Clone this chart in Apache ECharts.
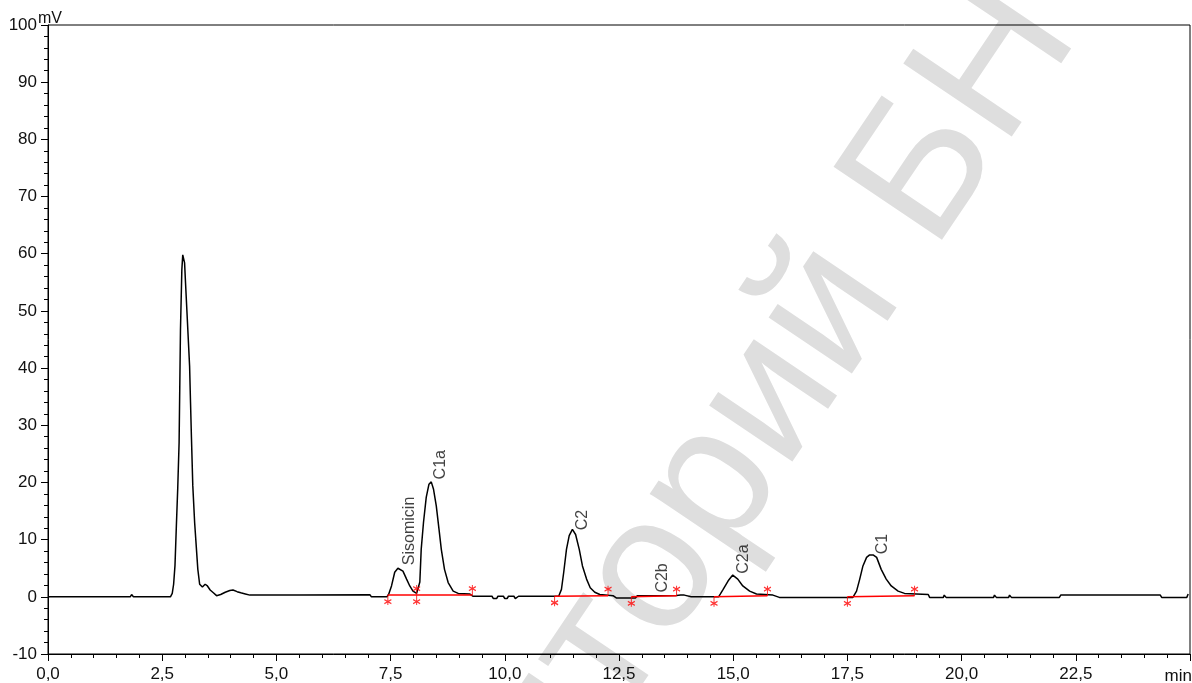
<!DOCTYPE html>
<html>
<head>
<meta charset="utf-8">
<script src="https://cdn.jsdelivr.net/npm/echarts@6/dist/echarts.min.js"></script>
<style>
html,body{margin:0;padding:0;background:#fff;}
#chart{width:1192px;height:683px;}
</style>
</head>
<body>
<div id="chart"></div>
<script>
// ---- data ----
const xTicks = [0, 2.5, 5, 7.5, 10, 12.5, 15, 17.5, 20, 22.5];
const yTicks = [-10, 0, 10, 20, 30, 40, 50, 60, 70, 80, 90, 100];

const time = [
  0, 1.80, 1.83, 1.87, 2.68, 2.72, 2.75, 2.78, 2.81, 2.84, 2.87, 2.90, 2.93, 2.95, 2.97, 2.99, 3.01, 3.05, 3.10, 3.12,
  3.14, 3.17, 3.21, 3.25, 3.28, 3.32, 3.38, 3.44, 3.49, 3.55, 3.62, 3.69, 3.78, 3.88, 3.98, 4.05, 4.14, 4.22, 4.32, 4.42,
  5.50, 7.05, 7.08, 7.42, 7.46, 7.52, 7.59, 7.66, 7.70, 7.77, 7.85, 7.92, 7.99, 8.07, 8.11, 8.14, 8.17, 8.22, 8.28, 8.34,
  8.39, 8.44, 8.50, 8.56, 8.61, 8.68, 8.76, 8.87, 8.98, 9.23, 9.30, 9.72, 9.75, 9.82, 9.85, 9.97, 10.00, 10.05, 10.08, 10.20,
  10.23, 10.27, 10.30, 11.18, 11.24, 11.29, 11.35, 11.41, 11.48, 11.55, 11.63, 11.70, 11.79, 11.87, 11.97, 12.08, 12.37, 12.44, 12.86, 12.90,
  13.76, 13.80, 13.85, 13.88, 13.93, 13.96, 14.08, 14.10, 14.13, 14.68, 14.72, 14.78, 14.89, 14.99, 15.10, 15.21, 15.36, 15.51, 15.87, 16.01,
  17.62, 17.66, 17.70, 17.77, 17.84, 17.92, 17.98, 18.07, 18.14, 18.24, 18.35, 18.46, 18.61, 18.75, 19.01, 19.27, 19.30, 19.60, 19.62, 19.66,
  20.70, 20.72, 20.76, 21.03, 21.05, 21.09, 22.14, 22.17, 24.35, 24.38, 24.93, 24.96
];
const signal = [
  0, 0, 0.4, 0, 0, 0.6, 2.2, 5.5, 12.4, 19.0, 27.0, 46.7, 57.2, 59.8, 59.6, 58.4, 55.0, 48.5, 40.3, 34.0,
  27.9, 19.4, 13.0, 8.3, 4.8, 2.2, 1.7, 2.2, 1.9, 1.2, 0.7, 0.2, 0.4, 0.8, 1.1, 1.2, 0.9, 0.7, 0.5, 0.3,
  0.3, 0.35, 0.0, 0.0, 0.5, 1.9, 4.3, 5.0, 5.1, 4.5, 3.1, 1.9, 1.0, 0.6, 0.9, 2.6, 8.3, 13.0, 17.4, 19.7,
  20.1, 18.8, 15.9, 11.8, 8.3, 4.8, 2.5, 1.0, 0.6, 0.5, 0.1, 0.1, -0.3, -0.3, 0.1, 0.1, -0.3, -0.3, 0.1, 0.1,
  -0.3, -0.3, 0.1, 0.1, 1.3, 4.3, 8.3, 10.7, 11.8, 10.9, 8.3, 5.4, 3.1, 1.6, 0.8, 0.4, 0.2, -0.2, -0.2, 0.2,
  0.25, 0.0, 0.3, 0.0, 0.3, 0.0, 0.0, 0.3, 0.0, 0.0, 0.5, 1.3, 2.8, 3.8, 3.1, 1.9, 1.0, 0.5, 0.3, -0.1,
  -0.1, 0.2, 1.0, 3.1, 5.4, 6.9, 7.3, 7.3, 6.9, 4.8, 3.1, 1.9, 1.0, 0.6, 0.5, 0.4, -0.1, -0.1, 0.3, -0.1,
  -0.1, 0.3, -0.1, -0.1, 0.3, -0.1, -0.1, 0.3, 0.3, -0.1, -0.1, 0.5
];

// integration baselines (red)
const baseStart      = [7.44, 8.07, 11.09, 12.77, 14.58, 17.50];
const baseEnd        = [8.07, 9.29, 12.26, 13.76, 15.75, 18.97];
const baseStartLevel = [0.3, 0.3, 0.1, 0.0, 0.0, 0.0];
const baseEndLevel   = [0.3, 0.3, 0.2, 0.2, 0.2, 0.2];

// peak labels
const peakNames   = ['Sisomicin', 'C1a', 'C2', 'C2b', 'C2a', 'C1'];
const peakTimes   = [7.70, 8.39, 11.50, 13.24, 15.02, 18.06];
const peakHeights = [5.1, 20.1, 11.2, 0.3, 3.6, 7.0];

// ---- chart ----
const FONT = '"Liberation Sans", Arial, sans-serif';
const trace = time.map((t, i) => [t, signal[i]]);

const series = [{
  type: 'line', data: trace, showSymbol: false, symbol: 'none',
  lineStyle: { color: '#000', width: 1.5 }, z: 3, silent: true
}];

baseStart.forEach((s, i) => {
  series.push({
    type: 'line', data: [[s, baseStartLevel[i]], [baseEnd[i], baseEndLevel[i]]],
    showSymbol: false, symbol: 'none', lineStyle: { color: '#ff0000', width: 1.5 }, z: 4, silent: true
  });
});

const endMarkPath = 'path://M4 0 L4 10 M0.5 1.5 L7.5 5.5 M7.5 1.5 L0.5 5.5';
const startMarkPath = 'path://M4 0 L4 10 M0.5 4.5 L7.5 8.5 M7.5 4.5 L0.5 8.5';

series.push({
  type: 'scatter', data: baseStart.map((s, i) => [s, baseStartLevel[i]]),
  symbol: startMarkPath, symbolSize: [7, 10], symbolOffset: [0, 5],
  itemStyle: { color: 'rgba(0,0,0,0)', borderColor: '#ff0000', borderWidth: 1.2 }, z: 5, silent: true
});
series.push({
  type: 'scatter', data: baseEnd.map((e, i) => [e, baseEndLevel[i]]),
  symbol: endMarkPath, symbolSize: [7, 10], symbolOffset: [0, -5],
  itemStyle: { color: 'rgba(0,0,0,0)', borderColor: '#ff0000', borderWidth: 1.2 }, z: 5, silent: true
});

series.push({
  type: 'scatter',
  data: peakNames.map((n, i) => ({ name: n, value: [peakTimes[i], peakHeights[i]] })),
  symbolSize: 1, itemStyle: { color: 'rgba(0,0,0,0)' }, z: 6, silent: true,
  label: {
    show: true, formatter: p => p.name, rotate: 90, position: [10, -2],
    align: 'left', verticalAlign: 'middle', color: '#111', fontSize: 16, fontFamily: FONT
  }
});

const chart = echarts.init(document.getElementById('chart'), null, { renderer: 'canvas' });
chart.setOption({
  animation: false,
  backgroundColor: '#fff',
  grid: { left: 48, right: 2, top: 25, bottom: 28, show: true, borderColor: '#000', borderWidth: 1, backgroundColor: 'transparent' },
  graphic: [
    { type: 'text', x: 698, y: 508, rotation: 56 * Math.PI / 180, z: -10, silent: true,
      style: { text: 'Репозиторий БНТУ', font: '190px ' + FONT, fill: '#dedede', align: 'center', verticalAlign: 'middle' } },
    { type: 'text', left: 38, top: 11, silent: true,
      style: { text: 'mV', font: '16px ' + FONT, fill: '#111' } },
    { type: 'text', right: 0, top: 668, silent: true,
      style: { text: 'min', font: '17px ' + FONT, fill: '#111' } }
  ],
  xAxis: {
    type: 'value', min: 0, max: 25, interval: 2.5,
    axisLine: { show: true, onZero: false, lineStyle: { color: '#000', width: 1 } },
    axisTick: { show: true, length: 7, lineStyle: { color: '#000' } },
    minorTick: { show: true, splitNumber: 5, length: 4, lineStyle: { color: '#000' } },
    splitLine: { show: false },
    axisLabel: {
      margin: 12, color: '#111', fontSize: 17, fontFamily: FONT, showMaxLabel: false,
      formatter: v => xTicks.indexOf(v) >= 0 ? v.toFixed(1).replace('.', ',') : ''
    }
  },
  yAxis: {
    type: 'value', min: -10, max: 100, interval: 10,
    axisLine: { show: true, onZero: false, lineStyle: { color: '#000', width: 1 } },
    axisTick: { show: true, length: 7, lineStyle: { color: '#000' } },
    minorTick: { show: true, splitNumber: 5, length: 4, lineStyle: { color: '#000' } },
    splitLine: { show: false },
    axisLabel: {
      margin: 11, color: '#111', fontSize: 17, fontFamily: FONT,
      formatter: v => yTicks.indexOf(v) >= 0 ? String(v) : ''
    }
  },
  series: series
});
</script>
</body>
</html>
